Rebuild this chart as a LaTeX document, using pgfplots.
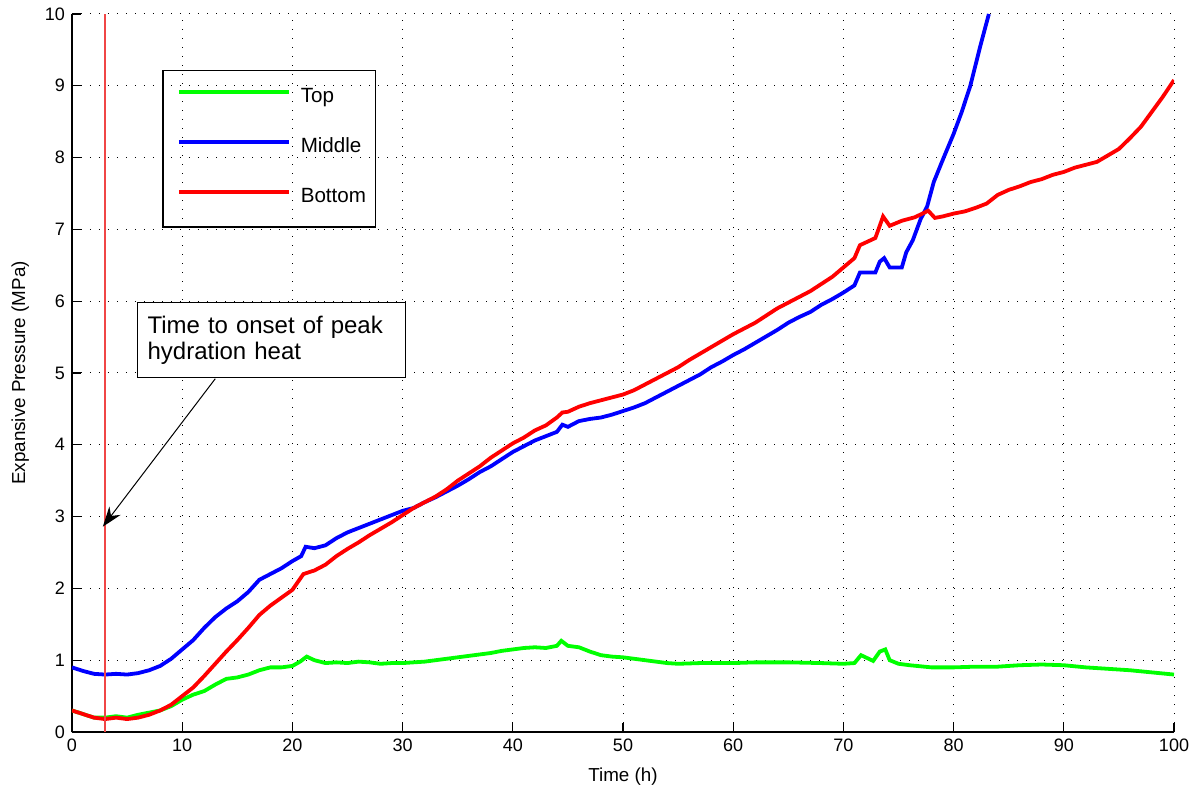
\documentclass[border=0pt]{standalone}
\usepackage{pgfplots}
\pgfplotsset{compat=1.18}
\usepackage{fontspec}
\setmainfont{Liberation Sans}
\usetikzlibrary{arrows.meta}

\pgfplotstableread{
x y
0 0.30
1 0.25
2 0.20
3 0.20
4 0.22
5 0.20
6 0.24
7 0.27
8 0.30
9 0.36
10 0.45
11 0.52
12 0.57
13 0.66
14 0.74
15 0.76
16 0.80
17 0.86
18 0.90
19 0.90
20 0.92
20.7 0.98
21.3 1.05
22 1.00
23 0.96
24 0.97
25 0.96
26 0.98
27 0.97
28 0.95
29 0.96
30 0.96
31 0.97
32 0.98
33 1.00
34 1.02
35 1.04
36 1.06
37 1.08
38 1.10
39 1.13
40 1.15
41 1.17
42 1.18
43 1.17
44 1.20
44.4 1.27
45 1.20
46 1.18
47 1.12
48 1.07
49 1.05
50 1.04
51 1.02
52 1.00
53 0.98
54 0.96
55 0.95
57 0.96
60 0.96
62 0.97
65 0.97
68 0.96
70 0.95
71 0.96
71.6 1.07
72.7 0.99
73.3 1.12
73.8 1.15
74.2 1.00
75 0.95
76 0.93
78 0.90
80 0.90
82 0.91
84 0.91
86 0.93
88 0.94
90 0.93
92 0.90
94 0.88
96 0.86
98 0.83
100 0.80
}\topdata

\pgfplotstableread{
x y
0 0.90
1 0.85
2 0.81
3 0.80
4 0.81
5 0.80
6 0.82
7 0.86
8 0.92
9 1.02
10 1.15
11 1.28
12 1.45
13 1.60
14 1.72
15 1.82
16 1.95
17 2.12
18 2.20
19 2.28
20 2.38
20.8 2.45
21.2 2.58
22 2.56
23 2.60
24 2.70
25 2.78
26 2.84
27 2.90
28 2.96
29 3.02
30 3.08
31 3.12
32 3.20
33 3.27
34 3.35
35 3.43
36 3.52
37 3.62
38 3.70
39 3.80
40 3.90
41 3.98
42 4.06
43 4.12
44 4.18
44.5 4.28
45 4.25
46 4.33
47 4.36
48 4.38
49 4.42
50 4.47
51 4.52
52 4.58
53 4.66
54 4.74
55 4.82
56 4.90
57 4.98
58 5.08
59 5.16
60 5.25
61 5.33
62 5.42
63 5.51
64 5.60
65 5.70
66 5.78
67 5.85
68 5.95
69 6.03
70 6.12
71 6.22
71.5 6.40
72.9 6.40
73.3 6.55
73.7 6.60
74.2 6.47
75.3 6.47
75.7 6.68
76.3 6.85
77 7.14
77.6 7.32
78.2 7.66
79.1 8.00
80 8.33
80.7 8.62
81.5 8.99
82.4 9.54
83.2 10.0
}\middata

\pgfplotstableread{
x y
0 0.30
1 0.25
2 0.20
3 0.18
4 0.20
5 0.18
6 0.20
7 0.24
8 0.30
9 0.38
10 0.50
11 0.62
12 0.78
13 0.95
14 1.12
15 1.28
16 1.45
17 1.63
18 1.76
19 1.87
20 1.98
21 2.20
22 2.25
23 2.33
24 2.45
25 2.55
26 2.64
27 2.74
28 2.83
29 2.92
30 3.02
31 3.12
32 3.20
33 3.28
34 3.38
35 3.50
36 3.60
37 3.70
38 3.82
39 3.92
40 4.02
41 4.10
42 4.20
43 4.27
44 4.38
44.5 4.45
45 4.46
46 4.53
47 4.58
48 4.62
49 4.66
50 4.70
51 4.76
52 4.84
53 4.92
54 5.00
55 5.08
56 5.18
57 5.27
58 5.36
59 5.45
60 5.54
61 5.62
62 5.70
63 5.80
64 5.90
65 5.98
66 6.06
67 6.14
68 6.24
69 6.34
70 6.47
71 6.60
71.5 6.78
72.9 6.88
73.6 7.18
74.2 7.05
75.3 7.12
76.5 7.17
77.7 7.26
78.3 7.16
79 7.18
80 7.22
81 7.25
82 7.30
83 7.36
84 7.48
85 7.55
86 7.60
87 7.66
88 7.70
89 7.76
90 7.80
91 7.86
92 7.90
93 7.94
94 8.03
95 8.12
96 8.27
97 8.43
98 8.64
99 8.85
100 9.08
}\botdata

\begin{document}
\begin{tikzpicture}
\useasboundingbox (-36pt,-30.5pt) rectangle (564pt,366pt);
\begin{axis}[
  scale only axis,
  width=551pt, height=359pt,
  xmin=0, xmax=100, ymin=0, ymax=10,
  xtick={0,10,...,100}, ytick={0,1,...,10},
  axis x line*=bottom, axis y line*=left,
  axis line style={black, line width=0.6pt, -},
  tick align=inside,
  major tick length=4.5pt,
  tick style={black, line width=0.6pt},
  grid=major,
  major grid style={black, line width=0.5pt, dash pattern=on 0.5pt off 4pt},
  /pgf/number format/assume math mode=true,
  ticklabel style={font=\fontsize{9}{10}\selectfont},
  label style={font=\fontsize{9.4}{11}\selectfont},
  xlabel={Time (h)},
  ylabel={Expansive Pressure (MPa)},
  xlabel style={at={(axis description cs:0.5,0)}, yshift=-14.5pt, anchor=north},
  ylabel style={at={(axis description cs:0,0.5)}, yshift=18pt, anchor=south},
  clip mode=individual,
  legend style={at={(axis cs:8.2,9.22)}, anchor=north west, draw=black, line width=0.6pt, fill=none,
    font=\fontsize{10.3}{12}\selectfont,
    cells={anchor=base west},
    nodes={inner ysep=0pt, inner xsep=3.4pt, text height=7.5pt, text depth=3.5pt},
    row sep=14pt,
    inner xsep=1.5pt, inner ysep=8.6pt},
  legend image code/.code={\path[draw=none] (0pt,0pt) -- (64pt,0pt); \draw[#1, line width=2pt] (6.5pt,5.2pt) -- (61.5pt,5.2pt);},
]
\addplot[color={rgb,255:red,0;green,255;blue,0}, line width=1.9pt] table[x=x,y=y]{\topdata};
\addlegendentry{Top}
\addplot[color={rgb,255:red,0;green,0;blue,255}, line width=1.9pt] table[x=x,y=y]{\middata};
\addlegendentry{Middle}
\addplot[color={rgb,255:red,255;green,0;blue,0}, line width=1.9pt] table[x=x,y=y]{\botdata};
\addlegendentry{Bottom}
\addplot[color={rgb,255:red,240;green,70;blue,70}, line width=0.6pt, forget plot] coordinates {(3,0) (3,10)};
\node[draw=black, line width=0.6pt, fill=white, anchor=north west, align=left,
  text width=124pt, inner xsep=5pt, minimum height=37.5pt,
  font=\fontsize{12}{13}\selectfont] (ann) at (axis cs:5.9,5.99) {Time to onset of peak\\hydration heat};
\draw[black, line width=0.5pt, -{Stealth[length=10pt, width=7pt]}] (axis cs:13.0,4.92) -- (axis cs:2.8,2.86);
\end{axis}
\end{tikzpicture}
\end{document}
